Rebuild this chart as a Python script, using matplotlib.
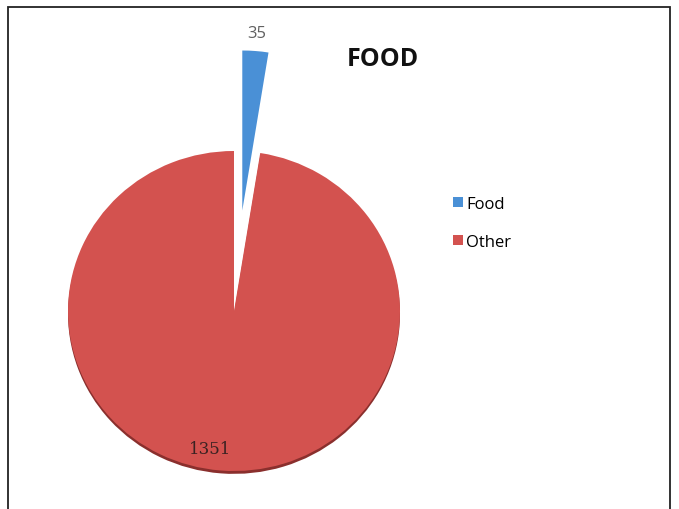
import matplotlib.pyplot as plt
import matplotlib.patches as mpatches
import numpy as np

# data
labels = ['Food', 'Other']
values = [35, 1351]
colors = ['#4a90d6', '#d3524f']
explode = [0.63, 0]

fig = plt.figure(figsize=(6.79, 5.10), dpi=100)
ax = fig.add_axes([0, 0, 1, 1])

# shadow under the big slice (3D look)
ax.pie(values, explode=explode, startangle=90, counterclock=False,
       colors=['none', '#8a2f2d'], center=(0, -0.018),
       wedgeprops=dict(linewidth=0))
wedges, _ = ax.pie(values, explode=explode, startangle=90, counterclock=False,
                   colors=colors, wedgeprops=dict(linewidth=0))

ax.set_aspect('auto')
ax.set_xlim(-234 / 166, (679 - 234) / 166)
ax.set_ylim(-198 / 160, 312 / 160)
ax.axis('off')

# value labels
total = sum(values)
ang_food = np.deg2rad(90 - 360 * values[0] / total / 2)
ax.text(1.74 * np.cos(ang_food), 1.74 * np.sin(ang_food), str(values[0]),
        ha='center', va='center', fontsize=12, color='#606060', family='Open Sans')
ax.text(-0.145, -0.86, str(values[1]), ha='center', va='center',
        fontsize=12, color='#3a2222', family='DejaVu Serif')

fig.text(383 / 679, 1 - 60 / 510, 'FOOD', ha='center', va='center',
         fontsize=18, fontweight='bold', family='Open Sans', color='#111111')

ax.legend(wedges, labels, loc='upper left', bbox_to_anchor=(438 / 679, 1 - 182 / 510),
          bbox_transform=fig.transFigure, frameon=False,
          handlelength=0.6, handleheight=0.6, handletextpad=0.2,
          labelspacing=1.3, prop={'family': 'Open Sans', 'size': 12})

border = mpatches.Rectangle((8 / 679, -0.1), (670 - 8) / 679, 1.1 - 8 / 510,
                            transform=fig.transFigure, fill=False,
                            edgecolor='#222222', linewidth=1.3)
fig.patches.append(border)

fig.savefig('out.png', dpi=100)
